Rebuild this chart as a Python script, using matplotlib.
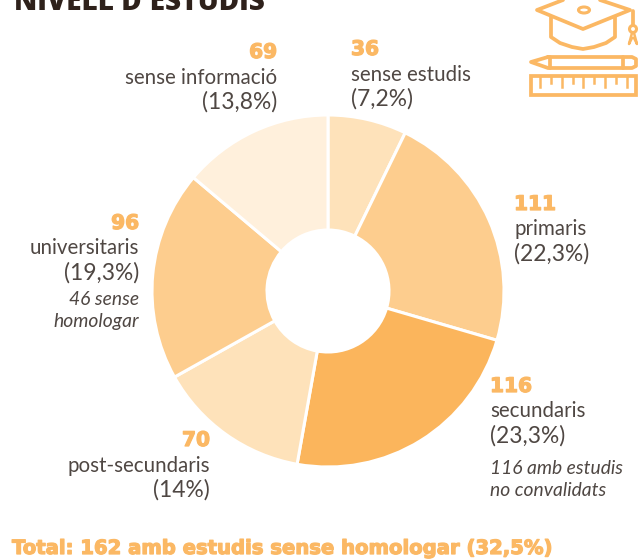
import matplotlib
matplotlib.use("Agg")
import matplotlib.pyplot as plt
import matplotlib.patheffects as pe
from matplotlib.patches import Ellipse, Rectangle

categories = ["sense estudis", "primaris", "secundaris", "post-secundaris", "universitaris", "sense informació"]
values = [36, 111, 116, 70, 96, 69]
percents = ["(7,2%)", "(22,3%)", "(23,3%)", "(14%)", "(19,3%)", "(13,8%)"]
colors = ["#FEE2BA", "#FDCD8E", "#FBB55C", "#FEE2BA", "#FDCD8E", "#FFF0DC"]
title = "NIVELL D'ESTUDIS"
total_text = "Total: 162 amb estudis sense homologar (32,5%)"

W, H = 638, 560
ORANGE = "#FBB864"
GREY = "#4F4743"

fig = plt.figure(figsize=(W / 100, H / 100), dpi=100, facecolor="white")
bg = fig.add_axes([0, 0, 1, 1])
bg.set_xlim(0, W)
bg.set_ylim(H, 0)
bg.axis("off")

cx, cy, r = 328, 291, 176
ax = fig.add_axes([(cx - r) / W, 1 - (cy + r) / H, 2 * r / W, 2 * r / H])
ax.pie(values, colors=colors, startangle=90, counterclock=False, radius=1.0,
       wedgeprops=dict(width=1 - 61 / 176, edgecolor="white", linewidth=2.2))
ax.set_xlim(-1, 1)
ax.set_ylim(-1, 1)
ax.set_aspect("equal")
ax.axis("off")

FONT = "Lato"
heavy = [pe.withStroke(linewidth=0.9, foreground=ORANGE)]
NUM = dict(family="DejaVu Sans", fontweight="bold", color=ORANGE, fontsize=14.5, va="baseline", path_effects=heavy)
LAB = dict(family=FONT, color=GREY, fontsize=14.8, va="baseline")
PCT = dict(family=FONT, color=GREY, fontsize=16.4, va="baseline")
NOTE = dict(family=FONT, color=GREY, fontsize=13.9, style="italic", va="baseline")

def block(i, x, ha, ys):
    bg.text(x, ys[0], str(values[i]), ha=ha, **NUM)
    bg.text(x, ys[1], categories[i], ha=ha, **LAB)
    bg.text(x, ys[2], percents[i], ha=ha, **PCT)

block(5, 277, "right", (58, 84, 109))
block(0, 351, "left", (55, 81, 106))
block(1, 514, "left", (210, 235, 261))
block(4, 139, "right", (229, 254, 280))
block(2, 490, "left", (392, 417, 443))
block(3, 210, "right", (446, 472, 497))

bg.text(139, 305, "46 sense", ha="right", **NOTE)
bg.text(139, 327, "homologar", ha="right", **NOTE)
bg.text(490, 474, "116 amb estudis", ha="left", **NOTE)
bg.text(490, 496, "no convalidats", ha="left", **NOTE)

bg.text(14, 10, title, family="Open Sans", fontweight="extra bold", fontsize=20.1, color="#2E211B", ha="left", va="baseline")
bg.text(12, 554, total_text, family="DejaVu Sans", fontweight="bold", fontsize=14.13, color=ORANGE, ha="left", va="baseline", path_effects=heavy)

# decorative icon
ic = dict(color=ORANGE, lw=2.7, solid_capstyle="round", solid_joinstyle="round")
bg.plot([563, 537, 583, 630, 600], [0, 10, 29, 10, 0], **ic)
bg.plot([551, 551, 560, 572, 583, 594, 606, 615, 615], [17, 37, 43, 47, 49, 47, 43, 37, 17], **ic)
bg.add_patch(Ellipse((584, 10), 11, 6, fill=False, ec=ORANGE, lw=2.2))
bg.plot([633, 633], [11, 25], **ic)
bg.add_patch(Ellipse((633, 29), 7, 7, fill=False, ec=ORANGE, lw=2.2))
bg.plot([632, 629, 632], [33, 44, 38], color=ORANGE, lw=1.8)
bg.plot([634, 637, 634], [33, 44, 38], color=ORANGE, lw=1.8)
bg.plot([548, 531, 548, 632, 636, 636, 632, 548], [57, 62, 68, 68, 66, 59, 57, 57], **ic)
bg.plot([550, 550], [57, 68], **ic)
bg.plot([623, 623], [57, 68], **ic)
bg.add_patch(Rectangle((531, 76), 105, 18.5, fill=False, ec=ORANGE, lw=2.7))
for x, h in [(540, 11), (551, 7), (562, 11), (573, 7), (583, 11), (594, 7), (605, 11), (616, 7), (627, 11)]:
    bg.plot([x, x], [76, 76 + h], color=ORANGE, lw=1.8)
bg.set_xlim(0, W)
bg.set_ylim(H, 0)

fig.savefig("out.png", dpi=100, facecolor="white")
